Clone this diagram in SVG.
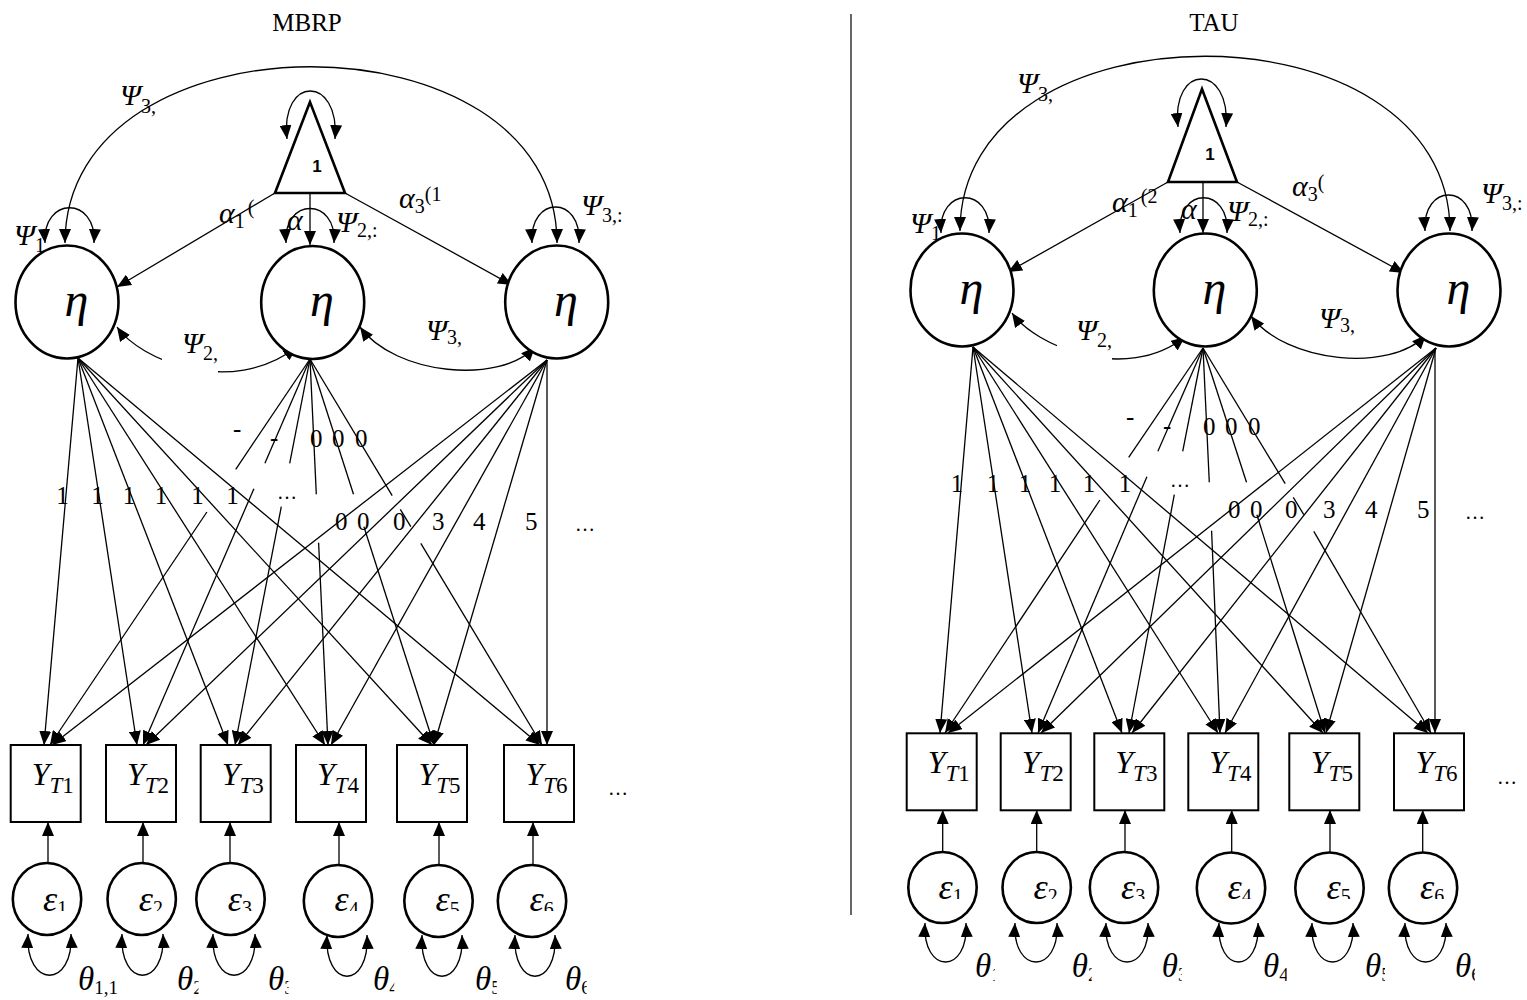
<svg xmlns="http://www.w3.org/2000/svg" width="1527" height="1000" viewBox="0 0 1527 1000">
<defs>
<style>
.ln{fill:none;stroke:#000;stroke-width:1.3}
.a{marker-end:url(#ah)}
.aa{marker-start:url(#ah);marker-end:url(#ah)}
.lat{fill:#fff;stroke:#000;stroke-width:2.6}
.box{fill:#fff;stroke:#000;stroke-width:2}
.tri{fill:#fff;stroke:#000;stroke-width:2.6;stroke-linejoin:miter}
.m{font-family:"Liberation Serif","Times New Roman",serif;font-style:italic;fill:#000}
.up{font-style:normal}
.sym{font-size:30px}
.sub{font-size:20px}
.eta{font-size:48px}
.y{font-size:32px}
.ys{font-size:23px}
.eps{font-size:36px}
.th{font-size:33px}
.ths{font-size:19px}
.num{font-family:"Liberation Serif","Times New Roman",serif;font-size:25px;fill:#000}
.ttl{font-family:"Liberation Serif","Times New Roman",serif;font-size:25px;fill:#000;text-anchor:middle}
.one{font-family:"Liberation Sans",Arial,sans-serif;font-size:17px;font-weight:bold;text-anchor:middle}
.dots{font-family:"Liberation Serif",serif;font-size:20px;fill:#000}
</style>
<marker id="ah" viewBox="0 0 14 12" refX="14" refY="6" markerWidth="14" markerHeight="12" markerUnits="userSpaceOnUse" orient="auto-start-reverse">
<path d="M0,0L14,6L0,12z" fill="#000"/>
</marker>
<clipPath id="epsClip"><rect x="0" y="0" width="1527" height="911"/></clipPath>
<clipPath id="kL2"><rect x="0" y="0" width="198.5" height="1000"/></clipPath>
<clipPath id="kL3"><rect x="0" y="0" width="288.5" height="1000"/></clipPath>
<clipPath id="kL4"><rect x="0" y="0" width="394.3" height="1000"/></clipPath>
<clipPath id="kL5"><rect x="0" y="0" width="496.7" height="1000"/></clipPath>
<clipPath id="kL6"><rect x="0" y="0" width="586.7" height="1000"/></clipPath>
<clipPath id="kR1"><rect x="0" y="0" width="102" height="1000"/></clipPath>
<clipPath id="kR2"><rect x="0" y="0" width="198.7" height="1000"/></clipPath>
<clipPath id="kR3"><rect x="0" y="0" width="288.7" height="1000"/></clipPath>
<clipPath id="kR4"><rect x="0" y="0" width="393.7" height="1000"/></clipPath>
<clipPath id="kR5"><rect x="0" y="0" width="492" height="1000"/></clipPath>
<clipPath id="kR6"><rect x="0" y="0" width="582" height="1000"/></clipPath>
</defs>

<rect x="0" y="0" width="1527" height="1000" fill="#fff"/>

<!-- group titles and separator -->
<text class="ttl" x="307" y="31">MBRP</text>
<text class="ttl" x="1214" y="31">TAU</text>
<line x1="851" y1="14" x2="851" y2="915" stroke="#000" stroke-width="1.2"/>

<!-- ===================== MBRP model ===================== -->
<g id="panel-mbrp">
<g id="connectors-mbrp" class="ln">
  <!-- covariances and self-variances -->
  <path class="aa" d="M65,243 C65,8 557,8 557,243"/>
  <path class="aa" d="M287,139 C280,75 340,75 335,139"/>
  <path class="aa" d="M45,243 C42,196 97,196 94,243"/>
  <path class="aa" d="M286,243 C283,197 337,197 334,243"/>
  <path class="aa" d="M532,243 C529,195 582,195 579,243"/>
  <path class="aa" d="M117,327 C140,360 230,398 297,347"/>
  <path class="aa" d="M360,327 C395,375 500,385 535,347"/>
  <!-- means from the constant -->
  <path class="a" d="M310,193 L310,245"/>
  <path class="a" d="M275,193 L117,287"/>
  <path class="a" d="M345,193 L512,285"/>
  <!-- loadings of the intercept factor -->
  <path class="a" d="M78,358 L44,745"/>
  <path class="a" d="M78,358 L137,745"/>
  <path class="a" d="M78,358 L228,745"/>
  <path class="a" d="M78,358 L325,745"/>
  <path class="a" d="M78,358 L432,745"/>
  <path class="a" d="M78,358 L540,745"/>
  <!-- loadings of the second factor (broken behind labels) -->
  <path d="M310,359 L235.7,469.3"/><path class="a" d="M206.9,512 L50,745"/>
  <path d="M310,359 L264.9,463.3"/><path class="a" d="M253.9,488.7 L143,745"/>
  <path d="M310,359 L289.7,463.3"/><path class="a" d="M281.3,506.7 L235,745"/>
  <path d="M310,359 L316.3,494.3"/><path class="a" d="M318.6,542.7 L328,745"/>
  <path d="M310,359 L353.5,494.3"/><path class="a" d="M363.9,526.7 L434,745"/>
  <path d="M310,359 L392.2,495.7"/><path d="M400.3,509.3 L410.8,526.7"/><path class="a" d="M420.8,543.3 L542,745"/>
  <!-- loadings of the third factor -->
  <path class="a" d="M547,360 L52,745"/>
  <path class="a" d="M547,360 L146,745"/>
  <path class="a" d="M547,360 L238,745"/>
  <path class="a" d="M547,360 L331,745"/>
  <path class="a" d="M547,360 L434,745"/>
  <path class="a" d="M547,360 L547,745"/>
  <!-- residuals -->
  <path class="a" d="M48,863 L48,822"/>
  <path class="a" d="M143,863 L143,822"/>
  <path class="a" d="M230,863 L230,822"/>
  <path class="a" d="M339,865 L339,822"/>
  <path class="a" d="M439,865 L439,822"/>
  <path class="a" d="M533,865 L533,822"/>
  <path class="aa" d="M28,934 C25,989 74,989 71,934"/>
  <path class="aa" d="M122,934 C119,989 166,989 163,934"/>
  <path class="aa" d="M213,934 C210,989 258,989 255,934"/>
  <path class="aa" d="M327,935 C324,990 370,990 367,935"/>
  <path class="aa" d="M422,935 C419,990 465,990 462,935"/>
  <path class="aa" d="M515,935 C512,990 558,990 555,935"/>
</g>

<g id="const-mbrp"><polygon class="tri" points="310,102 275,193 345,193"/><text class="one" x="317" y="172">1</text></g>
<g id="eta1-mbrp"><ellipse class="lat" cx="67" cy="302" rx="51.5" ry="56.5"/><text class="m eta" x="76.5" y="316" text-anchor="middle">η</text></g>
<g id="eta2-mbrp"><ellipse class="lat" cx="312.7" cy="302.5" rx="51.5" ry="56.5"/><text class="m eta" x="322" y="316" text-anchor="middle">η</text></g>
<g id="eta3-mbrp"><ellipse class="lat" cx="556.7" cy="302" rx="51.5" ry="56.5"/><text class="m eta" x="566" y="316" text-anchor="middle">η</text></g>

<g id="y1-mbrp"><rect class="box" x="10.7" y="745" width="70" height="77"/><text class="m y" x="31.7" y="785">Y<tspan class="ys" dy="8">T</tspan><tspan class="ys up">1</tspan></text></g>
<g id="y2-mbrp"><rect class="box" x="106" y="745" width="70" height="77"/><text class="m y" x="127" y="785">Y<tspan class="ys" dy="8">T</tspan><tspan class="ys up">2</tspan></text></g>
<g id="y3-mbrp"><rect class="box" x="200.7" y="745" width="70" height="77"/><text class="m y" x="221.7" y="785">Y<tspan class="ys" dy="8">T</tspan><tspan class="ys up">3</tspan></text></g>
<g id="y4-mbrp"><rect class="box" x="296" y="745" width="70" height="77"/><text class="m y" x="317" y="785">Y<tspan class="ys" dy="8">T</tspan><tspan class="ys up">4</tspan></text></g>
<g id="y5-mbrp"><rect class="box" x="397" y="745" width="70" height="77"/><text class="m y" x="418.5" y="785">Y<tspan class="ys" dy="8">T</tspan><tspan class="ys up">5</tspan></text></g>
<g id="y6-mbrp"><rect class="box" x="504" y="745" width="70" height="77"/><text class="m y" x="525.5" y="785">Y<tspan class="ys" dy="8">T</tspan><tspan class="ys up">6</tspan></text></g>

<g id="e1-mbrp"><ellipse class="lat" cx="47" cy="899" rx="34.2" ry="36"/><text class="m eps" x="43" y="910.5" clip-path="url(#epsClip)">ε<tspan class="sub up" dy="4.5">1</tspan></text></g>
<g id="e2-mbrp"><ellipse class="lat" cx="141.7" cy="899" rx="34.2" ry="36"/><text class="m eps" x="138.8" y="910.5" clip-path="url(#epsClip)">ε<tspan class="sub up" dy="4.5">2</tspan></text></g>
<g id="e3-mbrp"><ellipse class="lat" cx="230.5" cy="899" rx="34.2" ry="36"/><text class="m eps" x="227.8" y="910.5" clip-path="url(#epsClip)">ε<tspan class="sub up" dy="4.5">3</tspan></text></g>
<g id="e4-mbrp"><ellipse class="lat" cx="338" cy="901" rx="34.2" ry="36"/><text class="m eps" x="334.5" y="911" clip-path="url(#epsClip)">ε<tspan class="sub up" dy="4.5">4</tspan></text></g>
<g id="e5-mbrp"><ellipse class="lat" cx="438.5" cy="901" rx="34.2" ry="36"/><text class="m eps" x="435.5" y="911" clip-path="url(#epsClip)">ε<tspan class="sub up" dy="4.5">5</tspan></text></g>
<g id="e6-mbrp"><ellipse class="lat" cx="532" cy="901" rx="34.2" ry="36"/><text class="m eps" x="529.5" y="911" clip-path="url(#epsClip)">ε<tspan class="sub up" dy="4.5">6</tspan></text></g>

<g id="labels-mbrp">
  <text class="m sym" x="120" y="105">Ψ<tspan class="sub up" dy="8">3,</tspan></text>
  <text class="m sym" x="14" y="245">Ψ<tspan class="sub up" dy="7">1</tspan></text>
  <text class="m sym" x="219" y="223">α<tspan class="sub up" dy="5">1</tspan><tspan class="sub up" dx="3" dy="-14">(</tspan></text>
  <text class="m sym" x="287" y="230">α</text>
  <text class="m sym" x="336" y="232">Ψ<tspan class="sub up" dy="5">2,:</tspan></text>
  <text class="m sym" x="399" y="208">α<tspan class="sub up" dy="5">3</tspan><tspan class="sub up" dy="-12">(1</tspan></text>
  <text class="m sym" x="581" y="215">Ψ<tspan class="sub up" dy="7">3,:</tspan></text>
  <rect x="162" y="330" width="56" height="44" fill="#fff"/>
  <text class="m sym" x="182" y="353">Ψ<tspan class="sub up" dy="7">2,</tspan></text>
  <text class="m sym" x="426" y="340">Ψ<tspan class="sub up" dy="4">3,</tspan></text>
  <!-- loading values -->
  <text class="num" x="233" y="437">-</text>
  <text class="num" x="270" y="446">-</text>
  <text class="num" x="310" y="447">0</text>
  <text class="num" x="332" y="447">0</text>
  <text class="num" x="355" y="447">0</text>
  <text class="num" text-anchor="middle" x="62.5" y="504">1</text>
  <text class="num" text-anchor="middle" x="97.5" y="504">1</text>
  <text class="num" text-anchor="middle" x="129" y="504">1</text>
  <text class="num" text-anchor="middle" x="161" y="504">1</text>
  <text class="num" text-anchor="middle" x="197.5" y="504">1</text>
  <text class="num" text-anchor="middle" x="232.5" y="504">1</text>
  <text class="dots" x="277" y="499">…</text>
  <text class="num" x="335" y="530">0</text>
  <text class="num" x="357" y="530">0</text>
  <text class="num" x="393" y="530">0</text>
  <text class="num" x="432" y="530">3</text>
  <text class="num" x="473" y="530">4</text>
  <text class="num" x="525" y="530">5</text>
  <text class="dots" x="575" y="531">…</text>
  <text class="dots" x="608" y="795">…</text>
  <!-- residual variances -->
  <text class="m th" x="78" y="990">θ<tspan class="ths up" dy="4">1,1</tspan></text>
  <text class="m th" x="177" y="990" clip-path="url(#kL2)">θ<tspan class="ths up" dy="4">2</tspan></text>
  <text class="m th" x="268" y="990" clip-path="url(#kL3)">θ<tspan class="ths up" dy="4">3</tspan></text>
  <text class="m th" x="373" y="990" clip-path="url(#kL4)">θ<tspan class="ths up" dy="4">4</tspan></text>
  <text class="m th" x="475" y="990" clip-path="url(#kL5)">θ<tspan class="ths up" dy="4">5</tspan></text>
  <text class="m th" x="565" y="990" clip-path="url(#kL6)">θ<tspan class="ths up" dy="4">6</tspan></text>
</g>
</g>

<!-- ===================== TAU model ===================== -->
<g id="panel-tau" transform="translate(893,-12)">
<g id="connectors-tau" class="ln">
  <path class="aa" d="M67,243 C67,10 557,10 557,243"/>
  <path class="aa" d="M285,139 C278,75 338,75 333,139"/>
  <path class="aa" d="M48,245 C45,198 99,198 96,245"/>
  <path class="aa" d="M287,245 C284,198 337,198 334,245"/>
  <path class="aa" d="M532,243 C529,195 582,195 579,243"/>
  <path class="aa" d="M119,325 C142,358 232,396 292,349"/>
  <path class="aa" d="M358,328 C393,375 498,385 533,347"/>
  <path class="a" d="M310,194 L310,245"/>
  <path class="a" d="M275,194 L115,284"/>
  <path class="a" d="M344,194 L511,285"/>
  <path class="a" d="M80,359 L47,745"/>
  <path class="a" d="M80,359 L139,745"/>
  <path class="a" d="M80,359 L229,745"/>
  <path class="a" d="M80,359 L325,745"/>
  <path class="a" d="M80,359 L430,745"/>
  <path class="a" d="M80,359 L535,745"/>
  <path d="M310,360 L235.7,469.3"/><path class="a" d="M206.9,512 L52,745"/>
  <path d="M310,360 L264.9,463.3"/><path class="a" d="M253.9,488.7 L145,745"/>
  <path d="M310,360 L289.7,463.3"/><path class="a" d="M281.3,506.7 L236,745"/>
  <path d="M310,360 L316.3,494.3"/><path class="a" d="M318.6,542.7 L327,745"/>
  <path d="M310,360 L353.5,494.3"/><path class="a" d="M363.9,526.7 L432,745"/>
  <path d="M310,360 L392.2,495.7"/><path d="M400.3,509.3 L410.8,526.7"/><path class="a" d="M420.8,543.3 L538,745"/>
  <path class="a" d="M543,360 L55,745"/>
  <path class="a" d="M543,360 L148,745"/>
  <path class="a" d="M543,360 L239,745"/>
  <path class="a" d="M543,360 L332,745"/>
  <path class="a" d="M543,360 L433,745"/>
  <path class="a" d="M542,360 L542,745"/>
  <path class="a" d="M49.7,864 L49.7,822"/>
  <path class="a" d="M143.7,864 L143.7,822"/>
  <path class="a" d="M232,864 L232,822"/>
  <path class="a" d="M338.7,865 L338.7,822"/>
  <path class="a" d="M437,865 L437,822"/>
  <path class="a" d="M529.7,865 L529.7,822"/>
  <path class="aa" d="M32,935 C29,987 76,987 73,935"/>
  <path class="aa" d="M122,935 C119,987 167,987 164,935"/>
  <path class="aa" d="M213,935 C210,987 258,987 255,935"/>
  <path class="aa" d="M326,935 C323,987 368,987 365,935"/>
  <path class="aa" d="M419,935 C416,987 463,987 460,935"/>
  <path class="aa" d="M512,935 C509,987 556,987 553,935"/>
</g>

<g id="const-tau"><polygon class="tri" points="309,101 275,194 344,194"/><text class="one" x="317" y="172">1</text></g>
<g id="eta1-tau"><ellipse class="lat" cx="69" cy="302" rx="51.5" ry="56.5"/><text class="m eta" x="78.5" y="316" text-anchor="middle">η</text></g>
<g id="eta2-tau"><ellipse class="lat" cx="312.3" cy="302" rx="51.5" ry="56.5"/><text class="m eta" x="321.5" y="316" text-anchor="middle">η</text></g>
<g id="eta3-tau"><ellipse class="lat" cx="556" cy="302" rx="51.5" ry="56.5"/><text class="m eta" x="565.5" y="316" text-anchor="middle">η</text></g>

<g id="y1-tau"><rect class="box" x="13.7" y="745.3" width="70" height="77"/><text class="m y" x="34.7" y="785">Y<tspan class="ys" dy="8">T</tspan><tspan class="ys up">1</tspan></text></g>
<g id="y2-tau"><rect class="box" x="107.7" y="745.3" width="70" height="77"/><text class="m y" x="128.7" y="785">Y<tspan class="ys" dy="8">T</tspan><tspan class="ys up">2</tspan></text></g>
<g id="y3-tau"><rect class="box" x="201.3" y="745.3" width="70" height="77"/><text class="m y" x="222.3" y="785">Y<tspan class="ys" dy="8">T</tspan><tspan class="ys up">3</tspan></text></g>
<g id="y4-tau"><rect class="box" x="295.3" y="745.3" width="70" height="77"/><text class="m y" x="316.3" y="785">Y<tspan class="ys" dy="8">T</tspan><tspan class="ys up">4</tspan></text></g>
<g id="y5-tau"><rect class="box" x="396.3" y="745.3" width="70" height="77"/><text class="m y" x="417.8" y="785">Y<tspan class="ys" dy="8">T</tspan><tspan class="ys up">5</tspan></text></g>
<g id="y6-tau"><rect class="box" x="501" y="745.3" width="70" height="77"/><text class="m y" x="522.5" y="785">Y<tspan class="ys" dy="8">T</tspan><tspan class="ys up">6</tspan></text></g>

<g id="e1-tau"><ellipse class="lat" cx="49.5" cy="899.5" rx="34.2" ry="35.5"/><text class="m eps" x="45.5" y="910.5" clip-path="url(#epsClip)">ε<tspan class="sub up" dy="4.5">1</tspan></text></g>
<g id="e2-tau"><ellipse class="lat" cx="143.7" cy="899.5" rx="34.2" ry="35.5"/><text class="m eps" x="140.5" y="910.5" clip-path="url(#epsClip)">ε<tspan class="sub up" dy="4.5">2</tspan></text></g>
<g id="e3-tau"><ellipse class="lat" cx="231" cy="899.5" rx="34.2" ry="35.5"/><text class="m eps" x="228" y="910.5" clip-path="url(#epsClip)">ε<tspan class="sub up" dy="4.5">3</tspan></text></g>
<g id="e4-tau"><ellipse class="lat" cx="338" cy="900" rx="34.2" ry="35.5"/><text class="m eps" x="334.5" y="910.5" clip-path="url(#epsClip)">ε<tspan class="sub up" dy="4.5">4</tspan></text></g>
<g id="e5-tau"><ellipse class="lat" cx="436.5" cy="900" rx="34.2" ry="35.5"/><text class="m eps" x="433.5" y="910.5" clip-path="url(#epsClip)">ε<tspan class="sub up" dy="4.5">5</tspan></text></g>
<g id="e6-tau"><ellipse class="lat" cx="530" cy="900" rx="34.2" ry="35.5"/><text class="m eps" x="527" y="910.5" clip-path="url(#epsClip)">ε<tspan class="sub up" dy="4.5">6</tspan></text></g>

<g id="labels-tau">
  <text class="m sym" x="124" y="105">Ψ<tspan class="sub up" dy="8">3,</tspan></text>
  <text class="m sym" x="17" y="245">Ψ<tspan class="sub up" dy="7">1</tspan></text>
  <text class="m sym" x="219" y="224">α<tspan class="sub up" dy="5">1</tspan><tspan class="sub up" dx="3" dy="-14">(2</tspan></text>
  <text class="m sym" x="288" y="231">α</text>
  <text class="m sym" x="334" y="233">Ψ<tspan class="sub up" dy="5">2,:</tspan></text>
  <text class="m sym" x="399" y="208">α<tspan class="sub up" dy="5">3</tspan><tspan class="sub up" dy="-12">(</tspan></text>
  <text class="m sym" x="588" y="215">Ψ<tspan class="sub up" dy="7">3,:</tspan></text>
  <rect x="164" y="330" width="55" height="44" fill="#fff"/>
  <text class="m sym" x="183" y="352">Ψ<tspan class="sub up" dy="7">2,</tspan></text>
  <text class="m sym" x="426" y="340">Ψ<tspan class="sub up" dy="4">3,</tspan></text>
  <text class="num" x="233" y="437">-</text>
  <text class="num" x="270" y="446">-</text>
  <text class="num" x="310" y="447">0</text>
  <text class="num" x="332" y="447">0</text>
  <text class="num" x="355" y="447">0</text>
  <text class="num" text-anchor="middle" x="64" y="504">1</text>
  <text class="num" text-anchor="middle" x="100" y="504">1</text>
  <text class="num" text-anchor="middle" x="132" y="504">1</text>
  <text class="num" text-anchor="middle" x="162" y="504">1</text>
  <text class="num" text-anchor="middle" x="196" y="504">1</text>
  <text class="num" text-anchor="middle" x="232" y="504">1</text>
  <text class="dots" x="277" y="499">…</text>
  <text class="num" x="335" y="530">0</text>
  <text class="num" x="357" y="530">0</text>
  <text class="num" x="392" y="530">0</text>
  <text class="num" x="430" y="530">3</text>
  <text class="num" x="472" y="530">4</text>
  <text class="num" x="524" y="530">5</text>
  <text class="dots" x="572" y="531">…</text>
  <text class="dots" x="604" y="796">…</text>
  <text class="m th" x="82" y="989" clip-path="url(#kR1)">θ<tspan class="ths up" dy="4">1</tspan></text>
  <text class="m th" x="178.7" y="989" clip-path="url(#kR2)">θ<tspan class="ths up" dy="4">2</tspan></text>
  <text class="m th" x="268.7" y="989" clip-path="url(#kR3)">θ<tspan class="ths up" dy="4">3</tspan></text>
  <text class="m th" x="370" y="989" clip-path="url(#kR4)">θ<tspan class="ths up" dy="4">4</tspan></text>
  <text class="m th" x="472" y="989" clip-path="url(#kR5)">θ<tspan class="ths up" dy="4">5</tspan></text>
  <text class="m th" x="562" y="989" clip-path="url(#kR6)">θ<tspan class="ths up" dy="4">6</tspan></text>
</g>
</g>
</svg>
